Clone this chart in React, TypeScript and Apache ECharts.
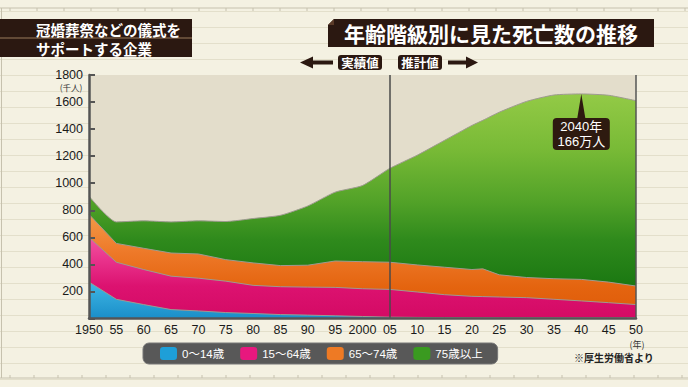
import React, { useEffect, useRef } from 'react';
import * as echarts from 'echarts';

// ---- data (thousand persons) ----
const years = [1950, 1955, 1960, 1965, 1970, 1975, 1980, 1985, 1990, 1995, 2000, 2005, 2010, 2015, 2020, 2022, 2025, 2030, 2035, 2040, 2045, 2050];
const age0to14 = [270, 142, 103, 66, 56, 44, 37, 29, 25, 20, 15, 10, 8, 7, 6, 6, 5, 5, 5, 5, 5, 5];
const age15to64 = [330, 274, 259, 247, 242, 232, 208, 206, 207, 210, 205, 205, 188, 169, 158, 156, 154, 149, 137, 125, 112, 98];
const age65to74 = [170, 139, 157, 171, 179, 159, 166, 156, 162, 195, 200, 201, 200, 203, 198, 205, 164, 149, 152, 159, 152, 137];
const age75plus = [135, 159, 203, 230, 245, 282, 328, 372, 438, 509, 563, 694, 811, 938, 1065, 1098, 1202, 1302, 1358, 1371, 1381, 1370];

const seriesNames = ['0～14歳', '15～64歳', '65～74歳', '75歳以上'];
const legendColors = ['#1e9fd8', '#e8187e', '#ee7a24', '#3a9a20'];
const yTicks = { min: 0, max: 1800, interval: 200 };
const xTicks = { min: 1950, max: 2050, interval: 5 };
const actualEndYear = 2005;
const peakYear = 2040;
const peakValue = 1660;
const peakLabel = '2040年\n166万人';

const FONT = '"Liberation Sans", "Noto Sans CJK JP", sans-serif';
const JFONT = '"Noto Sans CJK JP", "Liberation Sans", sans-serif';
const BROWN = '#2b1811';

function grad(stops: [number, string][]) {
  return {
    type: 'linear', x: 0, y: 0, x2: 0, y2: 1,
    colorStops: stops.map(([offset, color]) => ({ offset, color })),
  };
}

export default function App() {
  const ref = useRef<HTMLDivElement>(null);

  useEffect(() => {
    document.body.style.margin = '0';
    const chart = echarts.init(ref.current!, null, { renderer: 'svg' });

    const bands = [age0to14, age15to64, age65to74, age75plus];
    const cum: number[][] = [];
    bands.forEach((b, k) => {
      cum.push(b.map((v, i) => v + (k > 0 ? cum[k - 1][i] : 0)));
    });

    const fills = [
      grad([[0, '#40b8e6'], [1, '#1a8ec8']]),
      grad([[0, '#f2559f'], [0.3, '#e8308a'], [0.6, '#dc1270'], [1, '#d40a64']]),
      grad([[0, '#f39a48'], [0.35, '#ee7a2a'], [0.7, '#e4640f'], [1, '#de5a08']]),
      grad([[0, '#93ca46'], [0.25, '#78ba36'], [0.48, '#52a228'], [0.65, '#2f8a1c'], [0.85, '#1b7812'], [1, '#18720f']]),
    ];

    const series: any[] = [];
    for (let k = 3; k >= 0; k--) {
      const s: any = {
        name: seriesNames[k],
        type: 'line',
        data: years.map((y, i) => [y, cum[k][i]]),
        showSymbol: false,
        symbol: 'none',
        smooth: k === 3 ? 0.2 : false,
        lineStyle: { color: '#9e9a90', width: 1 },
        itemStyle: { color: legendColors[k] },
        areaStyle: { color: fills[k], opacity: 1 },
        emphasis: { disabled: true },
        silent: true,
      };
      if (k === 0) {
        s.markLine = {
          symbol: 'none',
          silent: true,
          label: { show: false },
          lineStyle: { color: '#4a4a4a', width: 1.5, type: 'solid' },
          data: [{ xAxis: actualEndYear }, { xAxis: xTicks.max, lineStyle: { color: '#555', width: 1.5, type: 'solid' } }],
        };
        s.markPoint = {
          silent: true,
          data: [{
            coord: [peakYear, peakValue],
            symbol: 'path://M28.5,0 L32.5,24 L53,24 Q57,24 57,28 L57,52 Q57,56 53,56 L4,56 Q0,56 0,52 L0,28 Q0,24 4,24 L24.5,24 Z',
            symbolSize: [57, 56],
            symbolOffset: [0, '50%'],
            itemStyle: { color: '#2e1a10' },
            label: {
              show: true,
              position: 'inside',
              offset: [0, 12],
              formatter: peakLabel,
              color: '#fff',
              fontSize: 13,
              lineHeight: 15,
              fontFamily: FONT,
            },
          }],
        };
      }
      series.push(s);
    }

    const graphicEls: any[] = [];
    // notebook frame
    graphicEls.push({ type: 'line', shape: { x1: 0, y1: 8, x2: 688, y2: 8 }, style: { stroke: '#c6c1ae', lineWidth: 1 } });
    graphicEls.push({ type: 'line', shape: { x1: 0, y1: 378, x2: 688, y2: 378 }, style: { stroke: '#c6c1ae', lineWidth: 1 } });
    graphicEls.push({ type: 'line', shape: { x1: 1.5, y1: 8, x2: 1.5, y2: 378 }, style: { stroke: '#c6c1ae', lineWidth: 1 } });
    for (let x = 10; x < 688; x += 27) {
      graphicEls.push({ type: 'line', shape: { x1: x, y1: 8, x2: x, y2: 11 }, style: { stroke: '#c6c1ae', lineWidth: 1 } });
    }
    for (let x = 10; x < 688; x += 24) {
      graphicEls.push({ type: 'line', shape: { x1: x, y1: 375, x2: x, y2: 378 }, style: { stroke: '#c6c1ae', lineWidth: 1 } });
    }
    // top-left box
    graphicEls.push({ type: 'rect', shape: { x: 0, y: 19, width: 192, height: 38 }, style: { fill: BROWN } });
    graphicEls.push({ type: 'line', shape: { x1: 0, y1: 38, x2: 192, y2: 38 }, style: { stroke: '#9a7a5c', lineWidth: 1 } });
    const txt = (text: string, x: number, y: number, size: number, color: string, weight: string, align = 'left', family = JFONT) => ({
      type: 'text',
      style: {
        text, x, y, fill: color, fontSize: size, fontWeight: weight, fontFamily: family,
        align, textAlign: align, verticalAlign: 'middle', textVerticalAlign: 'middle',
      },
    });
    graphicEls.push(txt('冠婚葬祭などの儀式を', 36, 29, 14.5, '#fff', 'bold'));
    graphicEls.push(txt('サポートする企業', 36, 48, 14.5, '#fff', 'bold'));
    // title box
    graphicEls.push({ type: 'polygon', shape: { points: [[328, 25], [334, 19], [654, 19], [654, 47], [328, 47]] }, style: { fill: BROWN } });
    graphicEls.push({ type: 'polygon', shape: { points: [[328, 25], [334, 19], [334, 25]] }, style: { fill: '#5a3a28' } });
    graphicEls.push(txt('年齢階級別に見た死亡数の推移', 344, 33, 21, '#fff', 'bold'));
    // arrows and tags
    graphicEls.push({ type: 'rect', shape: { x: 312, y: 60.5, width: 21, height: 4 }, style: { fill: BROWN } });
    graphicEls.push({ type: 'polygon', shape: { points: [[300, 62.5], [313, 56.5], [313, 68.5]] }, style: { fill: BROWN } });
    graphicEls.push({ type: 'rect', shape: { x: 448, y: 60.5, width: 19, height: 4 }, style: { fill: BROWN } });
    graphicEls.push({ type: 'polygon', shape: { points: [[478, 62.5], [466, 56.5], [466, 68.5]] }, style: { fill: BROWN } });
    graphicEls.push({ type: 'rect', shape: { x: 338, y: 55, width: 44, height: 15, r: 3 }, style: { fill: BROWN } });
    graphicEls.push(txt('実績値', 360, 62.5, 12.5, '#fff', 'bold', 'center'));
    graphicEls.push({ type: 'rect', shape: { x: 398, y: 55, width: 44, height: 15, r: 3 }, style: { fill: BROWN } });
    graphicEls.push(txt('推計値', 420, 62.5, 12.5, '#fff', 'bold', 'center'));
    // units and source
    graphicEls.push(txt('(千人)', 71, 86.5, 8.5, '#333', 'normal', 'center'));
    graphicEls.push(txt('(年)', 637, 344, 9, '#333', 'normal', 'center'));
    graphicEls.push(txt('※厚生労働省より', 574, 357.5, 10, '#222', 'bold'));

    const option: any = {
      animation: false,
      grid: {
        left: 89, right: 52, top: 75, bottom: 68.5,
        show: true, backgroundColor: '#e3ddcb', borderWidth: 0,
      },
      xAxis: {
        type: 'value', min: xTicks.min, max: xTicks.max, interval: xTicks.interval,
        z: 10,
        axisLine: { show: true, lineStyle: { color: '#555', width: 2.5 } },
        axisTick: { show: false },
        splitLine: { show: false },
        axisLabel: {
          color: '#1a1a1a', fontSize: 12.5, fontFamily: FONT, margin: 5,
          formatter: (v: number) => (v === 1950 || v === 2000 ? String(v) : String(v % 100).padStart(2, '0')),
        },
      },
      yAxis: {
        type: 'value', min: yTicks.min, max: yTicks.max, interval: yTicks.interval,
        z: 10,
        axisLine: { show: true, lineStyle: { color: '#555', width: 2.5 } },
        axisTick: { show: true, inside: true, length: 6, lineStyle: { color: '#555', width: 2 } },
        splitLine: { show: false },
        axisLabel: {
          color: '#1a1a1a', fontSize: 12.5, fontFamily: FONT, margin: 6,
          formatter: (v: number) => (v === 0 ? '' : String(v)),
        },
      },
      legend: {
        left: 143, top: 343,
        data: seriesNames.map((n, i) => ({ name: n, icon: 'roundRect', itemStyle: { color: legendColors[i], borderWidth: 0 } })),
        itemWidth: 17, itemHeight: 13, itemGap: 16,
        padding: [4, 15, 4, 17],
        backgroundColor: '#585858', borderRadius: 6,
        borderColor: '#777', borderWidth: 1,
        textStyle: { color: '#fff', fontSize: 11.5, fontFamily: FONT },
        selectedMode: false,
      },
      graphic: { elements: graphicEls },
      series,
    };

    chart.setOption(option);
    return () => chart.dispose();
  }, []);

  return (
    <div
      ref={ref}
      style={{
        width: 688,
        height: 387,
        background:
          'repeating-linear-gradient(to bottom, #f4f1e2 0px, #f4f1e2 11px, #e3dfcb 11px, #e3dfcb 12px, #f4f1e2 12px, #f4f1e2 16px)',
      }}
    />
  );
}
